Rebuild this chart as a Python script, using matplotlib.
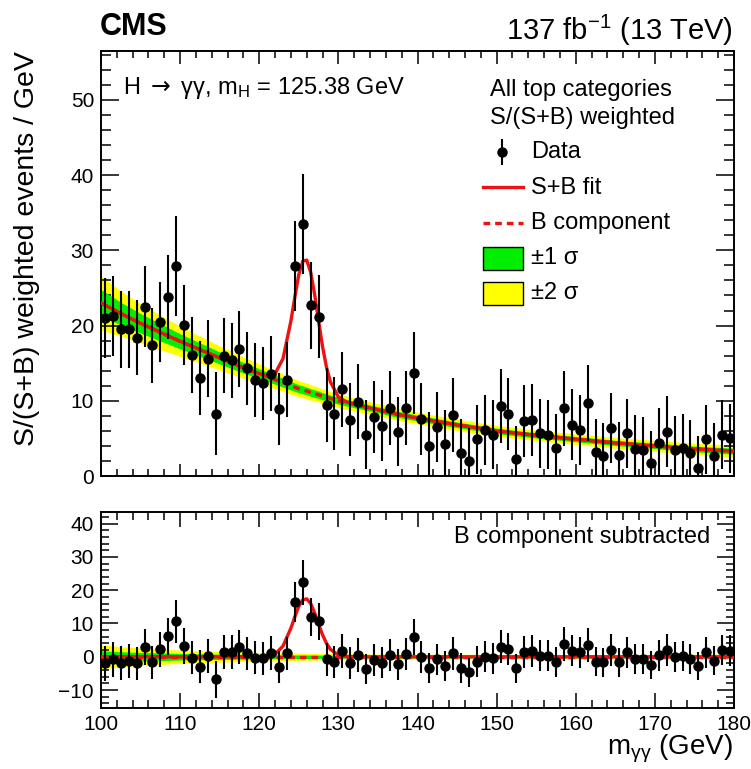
import matplotlib
matplotlib.use("Agg")
import matplotlib.pyplot as plt
from matplotlib.ticker import MultipleLocator
from matplotlib.lines import Line2D
from matplotlib.patches import Rectangle
import numpy as np

plt.rcParams['font.family'] = ['Liberation Sans', 'DejaVu Sans']
plt.rcParams['mathtext.fontset'] = 'custom'
plt.rcParams['mathtext.rm'] = 'Liberation Sans'
plt.rcParams['mathtext.it'] = 'Liberation Sans:italic'
plt.rcParams['mathtext.bf'] = 'Liberation Sans:bold'
plt.rcParams['mathtext.sf'] = 'DejaVu Sans'

# bin centres of the 1 GeV bins, 100.5 ... 179.5
mass = np.arange(100.5, 180.0, 1.0)

# S/(S+B) weighted data (top panel)
data = [21.0, 21.3, 19.5, 19.5, 18.4, 22.5, 17.4, 20.5, 23.8, 27.9,
        20.1, 16.1, 13.0, 15.6, 8.3, 16.0, 15.4, 16.9, 14.3, 12.8,
        12.3, 13.6, 8.9, 12.8, 27.9, 33.5, 22.7, 21.2, 9.4, 8.3,
        11.5, 7.5, 9.9, 5.5, 7.8, 6.7, 9.0, 5.9, 9.0, 13.7,
        7.6, 4.0, 6.5, 4.3, 8.1, 3.1, 2.0, 4.9, 6.1, 5.5,
        9.3, 8.2, 2.3, 7.3, 7.4, 5.7, 5.5, 3.7, 9.0, 6.8,
        6.1, 9.7, 3.2, 2.7, 6.4, 2.8, 5.7, 3.6, 3.4, 1.7,
        4.4, 5.9, 3.5, 3.7, 3.0, 1.0, 4.9, 2.6, 5.5, 5.0]

# B component subtracted (bottom panel)
resid = [-2.0, -0.8, -2.0, -1.3, -2.0, 3.0, -1.7, 2.2, 6.1, 10.6,
         3.2, -0.3, -3.0, 0.2, -6.8, 1.4, 1.4, 3.0, 1.0, -0.3,
         -0.5, 1.1, -3.2, 1.0, 16.4, 22.4, 11.9, 10.6, -0.8, -1.7,
         1.7, -2.0, 0.5, -3.7, -1.0, -1.8, 0.5, -2.3, 0.8, 5.9,
         0.0, -3.5, -0.8, -2.8, 1.0, -3.5, -4.7, -1.5, 0.0, -0.5,
         3.0, 2.3, -3.5, 1.5, 1.8, 0.3, 0.3, -1.7, 3.8, 1.8,
         1.3, 3.5, -1.5, -1.7, 2.0, -1.7, 1.3, -0.7, -0.8, -2.5,
         0.4, 2.0, 0.0, 0.3, -0.8, -2.8, 1.3, -1.2, 2.0, 1.8]

# error bars (same in both panels)
err = [5.3, 5.3, 5.1, 5.1, 5.0, 5.4, 5.0, 5.3, 5.6, 6.6,
       5.3, 5.0, 4.9, 5.1, 5.5, 5.0, 5.0, 5.1, 4.9, 4.9,
       4.9, 5.0, 4.8, 5.0, 6.0, 6.7, 5.8, 5.5, 4.9, 4.8,
       5.0, 4.8, 5.0, 4.6, 4.8, 4.7, 4.9, 4.6, 4.9, 5.5,
       4.8, 4.5, 4.7, 4.5, 4.9, 4.5, 4.4, 4.6, 4.7, 4.6,
       4.9, 4.8, 4.4, 4.8, 4.8, 4.6, 4.6, 4.5, 5.0, 4.7,
       4.7, 5.0, 4.4, 4.4, 4.7, 4.4, 4.6, 4.5, 4.5, 4.3,
       4.6, 4.7, 4.5, 4.5, 4.5, 4.3, 4.6, 4.4, 4.6, 4.6]

# fit curves, read at these masses
fit_m = [100, 102.5, 105, 107.5, 110, 112.5, 115, 117.5, 120, 121, 122, 123, 124,
         124.5, 125, 125.5, 126, 126.5, 127, 127.5, 128, 128.5, 129, 130, 131,
         132.5, 135, 137.5, 140, 145, 150, 155, 160, 165, 170, 175, 180]
bkg = [23.0, 21.6, 20.3, 19.1, 17.9, 16.8, 15.7, 14.6, 13.6, 13.2, 12.8, 12.4, 12.0,
       11.8, 11.6, 11.45, 11.3, 11.1, 10.95, 10.8, 10.6, 10.45, 10.3, 10.0, 9.75,
       9.4, 8.8, 8.2, 7.7, 6.8, 6.0, 5.4, 4.9, 4.4, 4.0, 3.6, 3.3]
sig = [0, 0, 0, 0, 0, 0, 0, 0, 0, 0.15, 0.8, 3.2, 8.6,
       12.0, 15.2, 17.1, 17.4, 16.0, 13.2, 9.8, 6.6, 4.0, 2.2, 0.5, 0.1,
       0, 0, 0, 0, 0, 0, 0, 0, 0, 0, 0, 0]
band1 = [1.8, 1.5, 1.3, 1.15, 1.0, 0.9, 0.8, 0.72, 0.65, 0.63, 0.6, 0.58, 0.56,
         0.55, 0.54, 0.53, 0.52, 0.51, 0.5, 0.49, 0.48, 0.47, 0.46, 0.45, 0.44,
         0.43, 0.41, 0.4, 0.39, 0.37, 0.36, 0.35, 0.35, 0.35, 0.36, 0.38, 0.4]
band2 = [3.6, 3.0, 2.6, 2.3, 2.0, 1.8, 1.6, 1.45, 1.3, 1.25, 1.2, 1.17, 1.13,
         1.1, 1.08, 1.06, 1.04, 1.02, 1.0, 0.98, 0.96, 0.94, 0.92, 0.9, 0.88,
         0.85, 0.82, 0.8, 0.78, 0.75, 0.72, 0.7, 0.7, 0.7, 0.72, 0.75, 0.8]

fit_m = np.array(fit_m)
bkg = np.array(bkg)
sig = np.array(sig)
band1 = np.array(band1)
band2 = np.array(band2)

RED = '#ee1111'
GREEN = '#00ee00'
YELLOW = '#ffff00'
W, H = 751, 769

fig = plt.figure(figsize=(W / 100, H / 100), dpi=100)
ax1 = fig.add_axes([101 / W, 1 - 476 / H, 633 / W, 425 / H])
ax2 = fig.add_axes([101 / W, 1 - 708 / H, 633 / W, 196 / H])


def style(ax, xmaj, xmin, ymaj, ymin):
    ax.set_xlim(100, 180)
    ax.xaxis.set_major_locator(MultipleLocator(10))
    ax.xaxis.set_minor_locator(MultipleLocator(2))
    ax.yaxis.set_major_locator(MultipleLocator(10))
    ax.yaxis.set_minor_locator(MultipleLocator(2))
    ax.tick_params(which='both', direction='in', top=True, right=True,
                   labelsize=15, width=1.1, pad=5)
    ax.tick_params(axis='x', which='major', length=xmaj)
    ax.tick_params(axis='x', which='minor', length=xmin)
    ax.tick_params(axis='y', which='major', length=ymaj)
    ax.tick_params(axis='y', which='minor', length=ymin)
    for s in ax.spines.values():
        s.set_linewidth(1.4)


# top panel
ax1.fill_between(fit_m, bkg - band2, bkg + band2, color=YELLOW, lw=0, zorder=1)
ax1.fill_between(fit_m, bkg - band1, bkg + band1, color=GREEN, lw=0, zorder=2)
ax1.plot(fit_m, bkg, color=RED, lw=2.4, ls=(0, (2, 1.5)), zorder=3)
ax1.plot(fit_m, bkg + sig, color=RED, lw=2.4, zorder=4)
ax1.errorbar(mass, data, yerr=err, fmt='o', color='black', ms=6.5,
             elinewidth=1.5, capsize=0, zorder=5)
ax1.set_ylim(0, 56.5)
style(ax1, 9, 5, 13, 7)
ax1.tick_params(axis='x', labelbottom=False)

# bottom panel
ax2.fill_between(fit_m, -band2, band2, color=YELLOW, lw=0, zorder=1)
ax2.fill_between(fit_m, -band1, band1, color=GREEN, lw=0, zorder=2)
ax2.plot(fit_m, np.zeros_like(fit_m), color=RED, lw=2.4, ls=(0, (2, 1.5)), zorder=3)
ax2.plot(fit_m, sig, color=RED, lw=2.4, zorder=4)
ax2.errorbar(mass, resid, yerr=err, fmt='o', color='black', ms=6.5,
             elinewidth=1.5, capsize=0, zorder=5)
ax2.set_ylim(-15.4, 43.5)
style(ax2, 11, 6, 12, 6)


def px(x, y):
    return x / W, 1 - y / H


# texts
fig.text(*px(100, 27), 'CMS', fontsize=22, fontweight='bold', ha='left', va='center')
fig.text(*px(733, 30), r'137 fb$^{\mathregular{-1}}$ (13 TeV)', fontsize=21,
         ha='right', va='center')
fig.text(*px(27, 51), 'S/(S+B) weighted events / GeV', fontsize=20.5, rotation=90,
         ha='center', va='top')
fig.text(*px(733, 749), r'$\mathregular{m_{γγ}}$ (GeV)', fontsize=20,
         ha='right', va='center')
fig.text(*px(123, 88), r'H $\mathsf{\rightarrow}$ γγ, m$_{\mathregular{H}}$ = 125.38 GeV',
         fontsize=17, ha='left', va='center')
fig.text(*px(490, 90), 'All top categories', fontsize=17, ha='left', va='center')
fig.text(*px(490, 118), 'S/(S+B) weighted', fontsize=17, ha='left', va='center')
fig.text(*px(710, 537), 'B component subtracted', fontsize=17, ha='right', va='center')

# legend, drawn by hand
tf = fig.transFigure
fig.add_artist(Line2D([502 / W, 502 / W], [1 - 140 / H, 1 - 164 / H], color='black',
                      lw=1.5, transform=tf))
fig.add_artist(Line2D([502 / W], [1 - 152 / H], marker='o', ms=6.5, color='black',
                      transform=tf))
fig.add_artist(Line2D([483 / W, 523 / W], [1 - 187 / H] * 2, color=RED, lw=2.4,
                      transform=tf))
fig.add_artist(Line2D([483 / W, 523 / W], [1 - 223 / H] * 2, color=RED, lw=2.4,
                      ls=(0, (2, 1.5)), transform=tf))
fig.add_artist(Rectangle(px(483, 270), 40 / W, 23 / H, facecolor=GREEN,
                         edgecolor='black', lw=1.0, transform=tf))
fig.add_artist(Rectangle(px(483, 305), 40 / W, 23 / H, facecolor=YELLOW,
                         edgecolor='black', lw=1.0, transform=tf))
for label, yy in [('Data', 152), ('S+B fit', 188), ('B component', 223),
                  ('±1 σ', 258), ('±2 σ', 293)]:
    fig.text(*px(531, yy), label, fontsize=17, ha='left', va='center')

fig.savefig('out.png', dpi=100)
